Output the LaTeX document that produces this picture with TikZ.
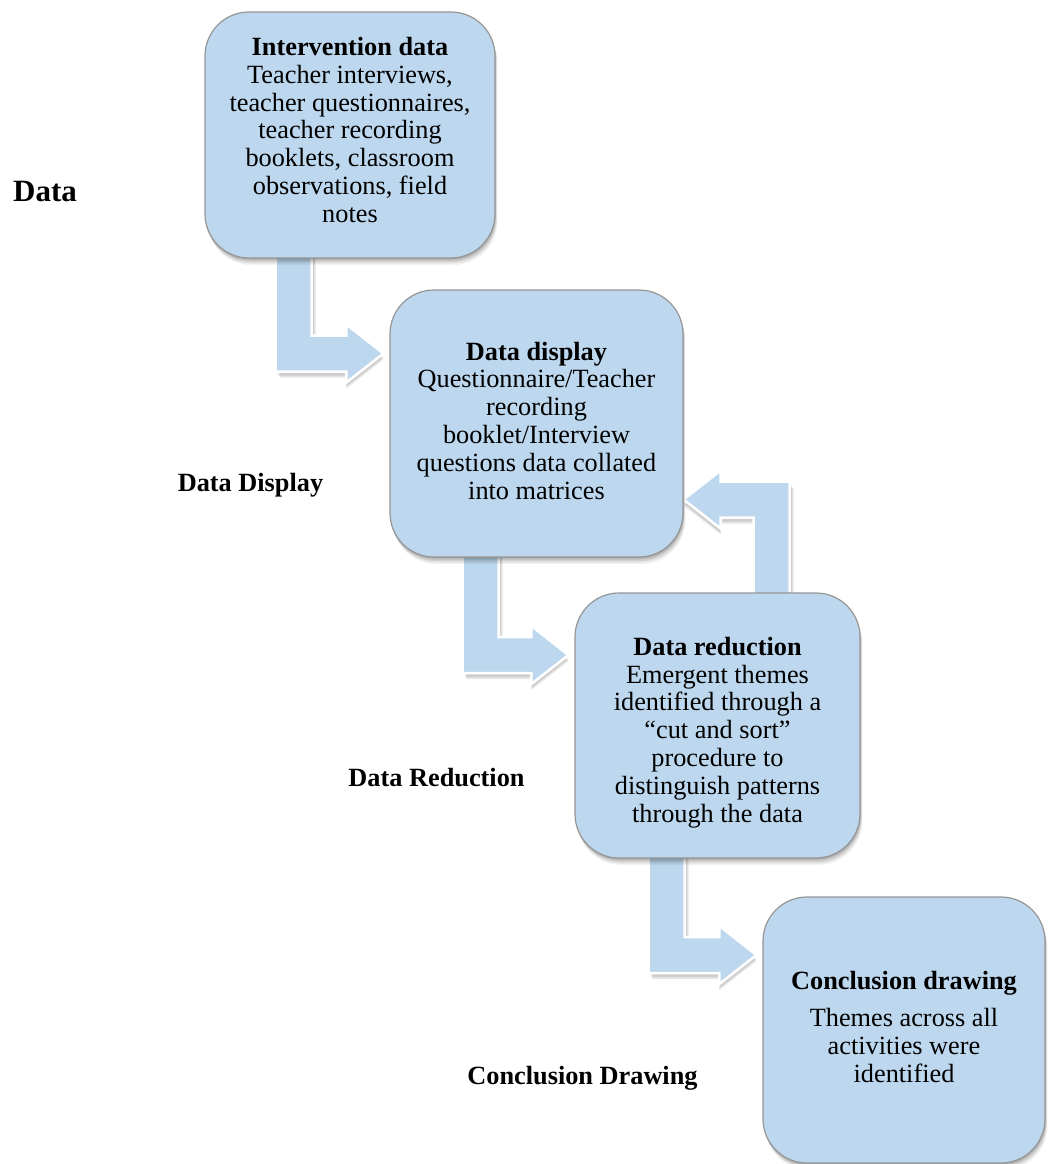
\documentclass[tikz,border=0pt]{standalone}
\usepackage{fontspec}
\setmainfont{Liberation Serif}
\usetikzlibrary{calc}
\pgfdeclarelayer{background}
\pgfsetlayers{background,main}

\definecolor{boxblue}{RGB}{189,215,238}
\definecolor{edgegray}{RGB}{150,150,150}

\tikzset{
  x=1pt, y=1pt,
  stagebox/.style={draw=edgegray, line width=1.2pt, fill=boxblue,
    rounded corners=44pt, inner sep=0pt},
  stagetext/.style={inner sep=0pt, align=center,
    font=\fontsize{26.3}{27.8}\selectfont},
  sidelabel/.style={font=\bfseries\fontsize{26.3}{28}\selectfont, inner sep=0pt},
  elbowfill/.style={fill=boxblue, draw=white, line width=2.5pt, line join=miter},
  elbowshade/.style={fill=black, opacity=0.1},
}

% soft shadow under a rounded box, the box, and its text
\newcommand\stage[7]{% name, cx, cy, width, height, text shift, text
  \foreach \d/\o in {7/0.05, 5.5/0.06, 4/0.08, 2.5/0.10, 1/0.10}{
    \fill[black, opacity=\o, rounded corners=44pt]
      ({#2-#4/2+\d*0.35},{#3+#5/2-\d}) rectangle ({#2+#4/2+\d*0.35},{#3-#5/2-\d});
  }
  \node[stagebox, minimum width=#4pt, minimum height=#5pt] (#1) at (#2,#3) {};
  \node[stagetext] (#1-text) at ($(#1.center)+(0,#6)$) {#7};
}

% block arrow: down out of a box, then right into the next one
\newcommand\downright[4]{% source, shaft x, row y, target
  let \p1=(#1.south), \p2=(#4.west) in
  ({#2pt-18pt},{\y1+10pt}) -- ({#2pt-18pt},{#3pt-18pt}) -- ({\x2-43pt},{#3pt-18pt})
  -- ({\x2-43pt},{#3pt-29pt}) -- ({\x2-6pt},{#3pt}) -- ({\x2-43pt},{#3pt+29pt})
  -- ({\x2-43pt},{#3pt+18pt}) -- ({#2pt+18pt},{#3pt+18pt}) -- ({#2pt+18pt},{\y1+10pt}) -- cycle}

% block arrow: up out of a box, then left into the previous one
\newcommand\upleft[4]{% source, shaft x, row y, target
  let \p1=(#1.north), \p2=(#4.east) in
  ({#2pt+18pt},{\y1-10pt}) -- ({#2pt+18pt},{#3pt+18pt}) -- ({\x2+37pt},{#3pt+18pt})
  -- ({\x2+37pt},{#3pt+29pt}) -- (\x2,{#3pt}) -- ({\x2+37pt},{#3pt-29pt})
  -- ({\x2+37pt},{#3pt-18pt}) -- ({#2pt-18pt},{#3pt-18pt}) -- ({#2pt-18pt},{\y1-10pt}) -- cycle}

\begin{document}
\begin{tikzpicture}
\useasboundingbox (0,0) rectangle (1047,-1164);

\stage{b1}{350}{-135}{290}{246}{5}{\textbf{Intervention data}\\ Teacher interviews,\\ teacher questionnaires,\\ teacher recording\\ booklets, classroom\\ observations, field\\ notes}
\stage{b2}{536.5}{-423.5}{293}{267}{3}{\textbf{Data display}\\ Questionnaire/Teacher\\ recording\\ booklet/Interview\\ questions data collated\\ into matrices}
\stage{b3}{717.5}{-725.5}{285}{265}{-7}{\textbf{Data reduction}\\ Emergent themes\\ identified through a\\ “cut and sort”\\ procedure to\\ distinguish patterns\\ through the data}
\stage{b4}{904}{-1030}{282}{266}{3}{\textbf{Conclusion drawing}\\[9pt] Themes across all\\ activities were\\ identified}

\begin{pgfonlayer}{background}
  \fill[white] (0,0) rectangle (1047,-1164);
  \foreach \sx/\sy in {4/-6, 2.5/-4}{
    \begin{scope}[shift={(\sx,\sy)}]
      \fill[elbowshade] \downright{b1}{293.5}{-353.5}{b2};
      \fill[elbowshade] \downright{b2}{480.5}{-655}{b3};
      \fill[elbowshade] \upleft{b3}{771.5}{-499.5}{b2};
      \fill[elbowshade] \downright{b3}{666.5}{-955}{b4};
    \end{scope}
  }
  \filldraw[elbowfill] \downright{b1}{293.5}{-353.5}{b2};
  \filldraw[elbowfill] \downright{b2}{480.5}{-655}{b3};
  \filldraw[elbowfill] \upleft{b3}{771.5}{-499.5}{b2};
  \filldraw[elbowfill] \downright{b3}{666.5}{-955}{b4};
\end{pgfonlayer}

\node[sidelabel, font=\bfseries\fontsize{31}{33}\selectfont] (ldata) at (45,-192) {Data};
\node[sidelabel] (ldisplay) at (250.5,-485) {Data Display};
\node[sidelabel] (lreduction) at (436.5,-778) {Data Reduction};
\node[sidelabel] (lconclusion) at (582.5,-1078) {Conclusion Drawing};
\end{tikzpicture}
\end{document}
